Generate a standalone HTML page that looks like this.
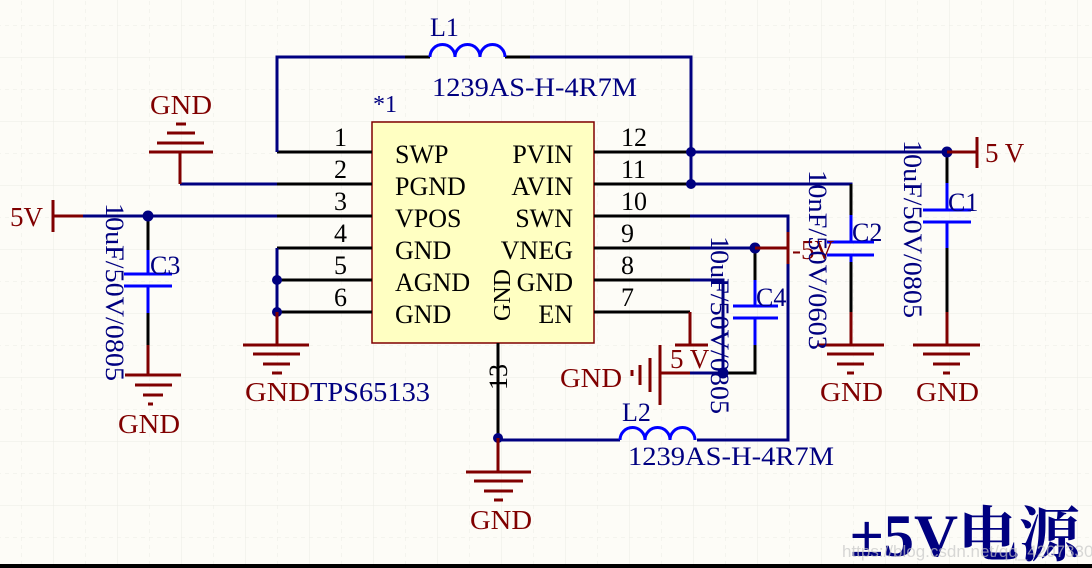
<!DOCTYPE html>
<html><head><meta charset="utf-8"><style>
html,body{margin:0;padding:0;background:#fdfcf7;}
svg{display:block}
text{font-family:"Liberation Serif",serif;}
</style></head><body>
<svg width="1092" height="568" viewBox="0 0 1092 568" xmlns="http://www.w3.org/2000/svg">
<defs>
<pattern id="g1" width="32" height="32" patternUnits="userSpaceOnUse" x="21" y="25">
<path d="M0 0V32M0 0H32" stroke="#ebebe6" stroke-width="1" stroke-dasharray="4 4" fill="none"/>
</pattern>
<pattern id="g2" width="64" height="64" patternUnits="userSpaceOnUse" x="53" y="57">
<path d="M0 0V64M0 0H64" stroke="#ebebe6" stroke-width="1" fill="none"/>
</pattern>
</defs>
<rect width="1092" height="568" fill="#fdfcf7"/>
<rect width="1092" height="568" fill="url(#g1)"/>
<rect width="1092" height="568" fill="url(#g2)"/>
<rect x="0" y="564" width="1092" height="4" fill="#000"/>

<rect x="372" y="122" width="222" height="221" fill="#ffffc2" stroke="#800000" stroke-width="1.5"/>
<g stroke="#000" stroke-width="3">
<path d="M277 152H372M277 184H372M277 216H372M277 248H372M277 280H372M277 312H372"/>
<path d="M594 152H690M594 184H690M594 216H690M594 248H690M594 280H690M594 312H690"/>
<path d="M498 343V438"/>
</g>
<g font-size="26" fill="#000">
<text x="334" y="146">1</text><text x="334" y="178">2</text><text x="334" y="210">3</text>
<text x="334" y="242">4</text><text x="334" y="274">5</text><text x="334" y="306">6</text>
<text x="621" y="146">12</text><text x="621" y="178">11</text><text x="621" y="210">10</text>
<text x="621" y="242">9</text><text x="621" y="274">8</text><text x="621" y="306">7</text>
<text transform="translate(507,390) rotate(-90)">13</text>
<text x="395" y="163">SWP</text><text x="395" y="195">PGND</text><text x="395" y="227">VPOS</text>
<text x="395" y="259">GND</text><text x="395" y="291">AGND</text><text x="395" y="323">GND</text>
<text x="573" y="163" text-anchor="end">PVIN</text><text x="573" y="195" text-anchor="end">AVIN</text>
<text x="573" y="227" text-anchor="end">SWN</text><text x="573" y="259" text-anchor="end">VNEG</text>
<text x="573" y="291" text-anchor="end">GND</text><text x="573" y="323" text-anchor="end">EN</text>
<text transform="translate(510,321) rotate(-90)" font-size="24">GND</text>
</g>
<text x="373" y="112" font-size="24" fill="#000080">*1</text>

<g stroke="#000080" stroke-width="3" fill="none">
<path d="M405 57H277V152"/>
<path d="M530 57H691V184"/>
<path d="M691 152H947"/>
<path d="M691 184H851V215"/>
<path d="M277 184H180"/>
<path d="M83 216H277"/>
<path d="M277 248V312"/>
<path d="M690 216H788V440H697"/>
<path d="M620 440H498"/>
<path d="M690 248H755"/>
<path d="M690 280H723V373"/>
<path d="M690 373H755"/>
</g>
<g stroke="#000" stroke-width="3" fill="none">
<path d="M405 57H430M505 57H530"/>
<path d="M148 216V250M148 313V345"/>
<path d="M851 184V215M851 262V312"/>
<path d="M947 152V183M947 248V312"/>
<path d="M755 248V280M755 345V373H723"/>
</g>
<g stroke="#0000ff" stroke-width="3" fill="none">
<path d="M430 57A12.5 12.5 0 0 1 455 57A12.5 12.5 0 0 1 480 57A12.5 12.5 0 0 1 505 57"/>
<path d="M620 440A12.5 12.5 0 0 1 645 440A12.5 12.5 0 0 1 670 440A12.5 12.5 0 0 1 695 440"/>
<path d="M148 250V274M124 274H172M124 286H172M148 286V313"/>
<path d="M851 215V242M827 242H874M827 255H874M851 255V262"/>
<path d="M947 183V210M923 210H971M923 222H971M947 222V248"/>
<path d="M755 280V306M733 306H778M733 318H778M755 318V345"/>
</g>
<g fill="#000080">
<circle cx="691" cy="152" r="5"/><circle cx="691" cy="184" r="5"/>
<circle cx="947" cy="152" r="5.5"/><circle cx="148" cy="216" r="5.5"/>
<circle cx="277" cy="280" r="5"/><circle cx="277" cy="312" r="5"/>
<circle cx="498" cy="438" r="5"/><circle cx="755" cy="248" r="5.5"/>
<circle cx="723" cy="373" r="5.5"/>
</g>
<g stroke="#800000" stroke-width="3" fill="none">
<path d="M180 184V152M149 152H213M157 143H204M167 133H195M176 124H186"/>
<path d="M53 200V232M53 216H83"/>
<path d="M148 345V375M125 375H181M135 385H172M143 395H163M148 404H153"/>
<path d="M277 312V345M243 345H309M253 354H300M263 364H290M272 373H282"/>
<path d="M498 438V472M466 472H531M474 481H523M484 491H513M494 500H503"/>
<path d="M947 152H977M977 137V168"/>
<path d="M947 312V345M913 345H980M923 354H970M933 364H960M943 373H950"/>
<path d="M851 312V345M817 345H884M827 354H874M837 364H864M847 373H854"/>
<path d="M755 248H788M788 232V264"/>
<path d="M690 312V345M675 345H708"/>
<path d="M690 373H660M660 345V405M650 358V392M640 365V385M632 370V376"/>
</g>
<g font-size="27" fill="#800000">
<text x="150" y="114" textLength="62" lengthAdjust="spacingAndGlyphs">GND</text>
<text x="10" y="226">5V</text>
<text x="118" y="433" textLength="62" lengthAdjust="spacingAndGlyphs">GND</text>
<text x="245" y="401" textLength="65" lengthAdjust="spacingAndGlyphs">GND</text>
<text x="470" y="529" textLength="62" lengthAdjust="spacingAndGlyphs">GND</text>
<text x="985" y="162">5 V</text>
<text x="916" y="401" textLength="63" lengthAdjust="spacingAndGlyphs">GND</text>
<text x="820" y="401" textLength="63" lengthAdjust="spacingAndGlyphs">GND</text>
<text x="792" y="259">-5V</text>
<text x="670" y="368">5 V</text>
<text x="560" y="387" textLength="62" lengthAdjust="spacingAndGlyphs">GND</text>
</g>
<g font-size="26" fill="#000080">
<text x="310" y="401" font-size="27" textLength="120" lengthAdjust="spacingAndGlyphs">TPS65133</text>
<text x="430" y="36">L1</text>
<text x="432" y="96" textLength="205" lengthAdjust="spacingAndGlyphs">1239AS-H-4R7M</text>
<text x="622" y="421">L2</text>
<text x="628" y="465" textLength="206" lengthAdjust="spacingAndGlyphs">1239AS-H-4R7M</text>
<text x="150" y="274">C3</text>
<text x="852" y="241">C2</text>
<text x="948" y="211">C1</text>
<text x="756" y="306">C4</text>
<text transform="translate(106,203) rotate(90)" textLength="178" lengthAdjust="spacingAndGlyphs">10uF/50V/0805</text>
<text transform="translate(809,170) rotate(90)" textLength="180" lengthAdjust="spacingAndGlyphs">10nF/50V/0603</text>
<text transform="translate(904,140) rotate(90)" textLength="178" lengthAdjust="spacingAndGlyphs">10uF/50V/0805</text>
<text transform="translate(711,236) rotate(90)" textLength="178" lengthAdjust="spacingAndGlyphs">10uF/50V/0805</text>
</g>
<text x="850" y="556" font-size="60" font-weight="bold" fill="#000080" textLength="230" lengthAdjust="spacingAndGlyphs" style='font-family:"Liberation Serif","Noto Serif CJK SC",serif'>±5V电源</text>
<text x="842" y="557" font-size="17" fill="#c8c8c8" opacity="0.7" style='font-family:"Liberation Sans",sans-serif'>https://blog.csdn.net/qq_42073304</text>
</svg>
</body></html>
